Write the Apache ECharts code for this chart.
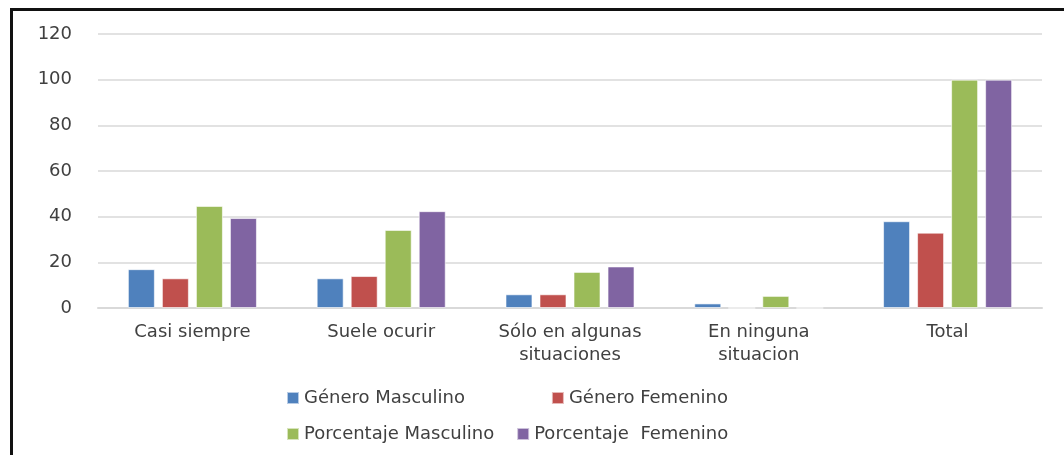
<!DOCTYPE html>
<html>
<head>
    <meta charset="utf-8">
    <title>Género y porcentaje</title>
    <script src="https://cdn.jsdelivr.net/npm/echarts@6/dist/echarts.min.js"></script>
    <style>
        body { margin: 0; background: #fff; }
        #chart1 { width: 1064px; height: 455px; }
        #marco { position: absolute; left: 10px; top: 8px; width: 1054px; height: 447px;
                 border-left: 3px solid #111; border-top: 3px solid #111; pointer-events: none; }
    </style>
</head>
<body>
    <div id="chart1"></div>
    <div id="marco"></div>
    <script type="text/javascript">
        // datos
        var categorias = ['Casi siempre', 'Suele ocurir', 'Sólo en algunas\nsituaciones', 'En ninguna\nsituacion', 'Total'];
        var generoMasculino = [17, 13, 6, 2, 38];
        var generoFemenino = [13, 14, 6, 0, 33];
        var porcentajeMasculino = [44.7, 34.2, 15.8, 5.3, 100];
        var porcentajeFemenino = [39.4, 42.4, 18.2, 0, 100];
        var ticksY = [0, 20, 40, 60, 80, 100, 120];

        var fuente = 'DejaVu Sans';
        var colorTexto = '#404040';

        var myChart = echarts.init(document.getElementById('chart1'));

        function serie(nombre, datos, color) {
            return {
                name: nombre,
                type: 'bar',
                data: datos,
                barWidth: 27,
                barGap: '26%',
                itemStyle: { color: color, borderColor: 'rgba(255,255,255,0.6)', borderWidth: 1 }
            };
        }

        var leyendaTexto = { fontFamily: fuente, fontSize: 18, color: colorTexto };

        myChart.setOption({
            animation: false,
            textStyle: { fontFamily: fuente },
            grid: { left: 98, right: 22, top: 34, bottom: 147, containLabel: false },
            legend: [{
                data: ['Género Masculino', 'Género Femenino'],
                left: 281, top: 384,
                icon: 'rect', itemWidth: 12, itemHeight: 12, itemGap: 86,
                textStyle: leyendaTexto
            }, {
                data: ['Porcentaje Masculino', 'Porcentaje  Femenino'],
                left: 281, top: 420,
                icon: 'rect', itemWidth: 12, itemHeight: 12, itemGap: 22,
                textStyle: leyendaTexto
            }],
            xAxis: {
                type: 'category',
                data: categorias,
                axisLine: { lineStyle: { color: '#d9d9d9', width: 2 } },
                axisTick: { show: false },
                axisLabel: { fontFamily: fuente, fontSize: 18, color: colorTexto, margin: 13, lineHeight: 23, interval: 0 }
            },
            yAxis: {
                type: 'value',
                min: ticksY[0],
                max: ticksY[ticksY.length - 1],
                interval: 20,
                axisLine: { show: false },
                axisTick: { show: false },
                splitLine: { lineStyle: { color: '#d9d9d9', width: 1.5 } },
                axisLabel: { fontFamily: fuente, fontSize: 18, color: colorTexto, margin: 26 }
            },
            series: [
                serie('Género Masculino', generoMasculino, '#4f81bd'),
                serie('Género Femenino', generoFemenino, '#c0504d'),
                serie('Porcentaje Masculino', porcentajeMasculino, '#9bbb59'),
                serie('Porcentaje  Femenino', porcentajeFemenino, '#8064a2')
            ]
        });
    </script>
</body>
</html>
